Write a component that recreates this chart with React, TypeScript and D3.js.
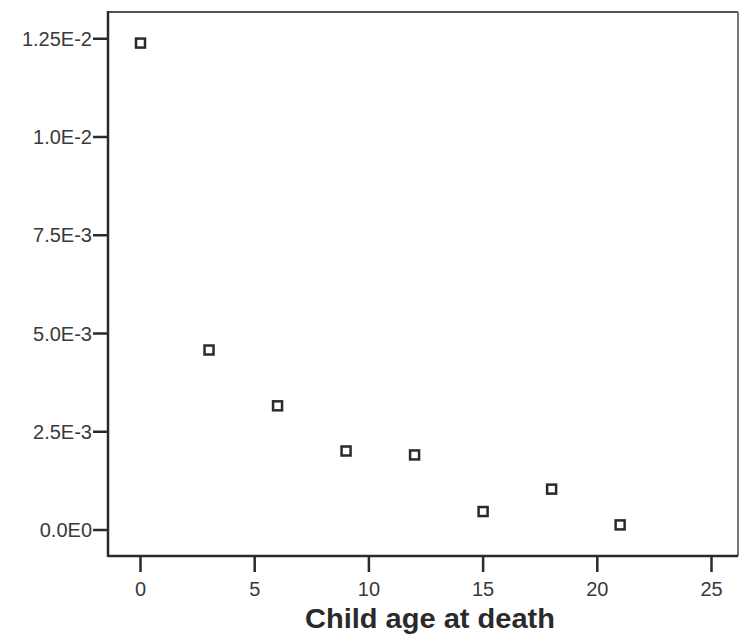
import React from 'react'
import * as d3 from 'd3'

const ages = [0, 3, 6, 9, 12, 15, 18, 21]
const rates = [0.01239, 0.00458, 0.00316, 0.00201, 0.00191, 0.00047, 0.00104, 0.00013]
const xTicks = [0, 5, 10, 15, 20, 25]
const yTicks = [0, 0.0025, 0.005, 0.0075, 0.01, 0.0125]
const yTickLabels = ['0.0E0', '2.5E-3', '5.0E-3', '7.5E-3', '1.0E-2', '1.25E-2']
const xTitle = 'Child age at death'

const W = 740
const H = 636
const box = { left: 108, top: 12, right: 738, bottom: 556 }

const App = () => {
  const x = d3.scaleLinear().domain([0, 25]).range([140.5, 711.5])
  const y = d3.scaleLinear().domain([0, 0.0125]).range([530, 38.75])
  const ink = '#2a2a2a'
  const font = '"Liberation Sans", Arial, Helvetica, sans-serif'

  return (
    <svg
      width={W}
      height={H}
      style={{ position: 'absolute', left: 0, top: 0, background: '#fff' }}
      fontFamily={font}
    >
      {/* frame: top and right are lighter */}
      <line x1={box.left} y1={box.top} x2={box.right} y2={box.top} stroke="#555" strokeWidth={2} />
      <line x1={box.right} y1={box.top} x2={box.right} y2={box.bottom} stroke="#777" strokeWidth={2} />
      <line x1={box.left} y1={box.top - 1} x2={box.left} y2={box.bottom + 1} stroke={ink} strokeWidth={2.5} />
      <line x1={box.left} y1={box.bottom} x2={box.right} y2={box.bottom} stroke={ink} strokeWidth={2.5} />

      {/* y axis */}
      {yTicks.map((t, i) => (
        <g key={'y' + i} transform={`translate(0,${y(t)})`}>
          <line x1={box.left - 15} x2={box.left} stroke={ink} strokeWidth={2.5} />
          <text x={box.left - 16} dy="0.35em" textAnchor="end" fontSize={20} fill="#3a3a3a">
            {yTickLabels[i]}
          </text>
        </g>
      ))}

      {/* x axis */}
      {xTicks.map(t => (
        <g key={'x' + t} transform={`translate(${x(t)},0)`}>
          <line y1={box.bottom} y2={box.bottom + 16} stroke={ink} strokeWidth={2.5} />
          <text y={box.bottom + 40} textAnchor="middle" fontSize={20} fill="#3a3a3a">
            {t}
          </text>
        </g>
      ))}

      <text
        x={305}
        y={628}
        fontSize={27}
        fontWeight="bold"
        fill={ink}
        textLength={250}
        lengthAdjust="spacingAndGlyphs"
      >
        {xTitle}
      </text>

      {/* points */}
      {ages.map((a, i) => (
        <rect
          key={'p' + i}
          x={x(a) - 4.5}
          y={y(rates[i]) - 4.5}
          width={9}
          height={9}
          fill="#fff"
          stroke={ink}
          strokeWidth={2.5}
        />
      ))}
    </svg>
  )
}

export default App
